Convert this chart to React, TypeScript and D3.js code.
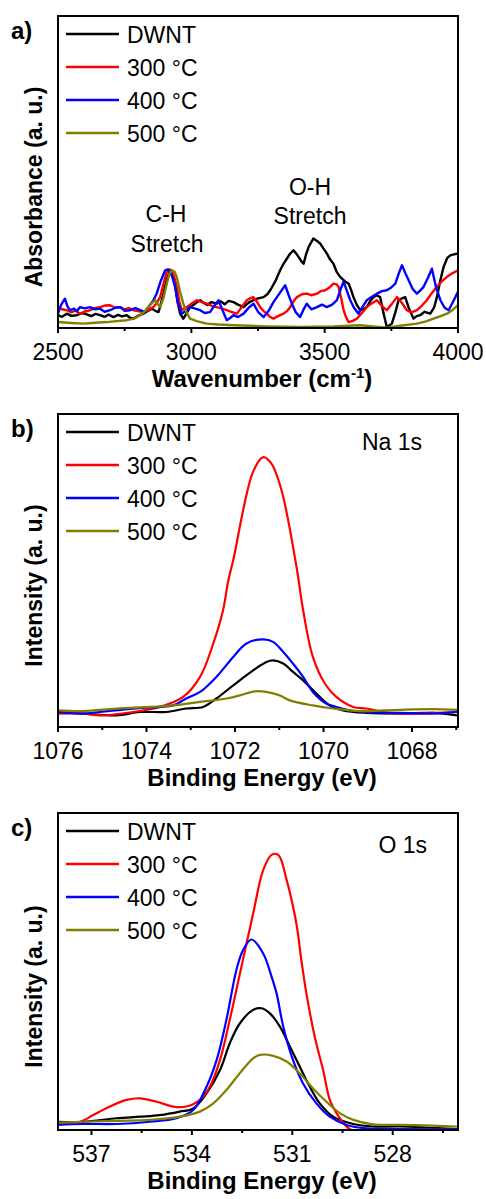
import React from 'react';
import * as d3 from 'd3';

const W = 486, H = 1199;
const LEFT = 58, RIGHT = 458;
const FONT = "'Liberation Sans', Arial, Helvetica, sans-serif";

const seriesNames = ['DWNT', '300 \u00B0C', '400 \u00B0C', '500 \u00B0C'];
const seriesColors = ['#000000', '#ff0000', '#0000ff', '#808000'];

// ---------- Panel a: FTIR (wavenumber, absorbance a.u.) ----------
const ftirTicks = [2500, 3000, 3500, 4000];
const ftirMinor = [2750, 3250, 3750];
const ftirDWNT: [number, number][] = [[2500,4.1],[2515,3.6],[2533,4.6],[2550,3.9],[2570,4.1],[2590,4.8],[2608,4.4],[2625,3.8],[2640,4.5],[2658,4.1],[2675,3.6],[2690,4.3],[2708,3.5],[2725,4.2],[2740,3.7],[2758,4.1],[2770,3.3],[2783,3.0],[2800,3.9],[2820,4.6],[2835,5.4],[2852,6.2],[2865,5.5],[2877,5.1],[2885,7.5],[2895,11.0],[2908,15.5],[2920,18.5],[2930,17.5],[2939,14.2],[2948,8.5],[2958,4.6],[2970,3.0],[2983,4.8],[2995,6.7],[3010,7.5],[3020,8.2],[3033,8.9],[3045,8.1],[3060,7.4],[3075,8.3],[3095,7.8],[3110,8.6],[3125,7.6],[3140,8.7],[3158,8.3],[3175,7.5],[3196,6.7],[3210,7.8],[3220,8.4],[3233,8.9],[3250,9.5],[3271,9.9],[3285,10.8],[3296,12.1],[3315,15.0],[3333,18.5],[3345,20.5],[3358,22.2],[3370,23.8],[3383,24.9],[3392,24.0],[3402,22.8],[3412,21.5],[3421,20.6],[3430,23.5],[3440,26.0],[3450,27.5],[3458,28.7],[3470,28.0],[3483,27.1],[3495,25.5],[3508,23.9],[3520,22.0],[3533,20.6],[3545,18.0],[3558,16.4],[3575,15.0],[3590,14.2],[3600,12.0],[3608,9.9],[3620,7.5],[3633,5.7],[3645,6.0],[3658,6.7],[3670,8.5],[3683,9.9],[3695,10.5],[3708,9.9],[3720,5.0],[3733,0.3],[3742,0.8],[3752,1.4],[3765,5.0],[3777,8.9],[3790,9.5],[3802,9.9],[3815,6.5],[3833,3.0],[3845,3.8],[3858,4.1],[3875,5.2],[3896,4.6],[3910,6.5],[3921,9.9],[3933,15.0],[3946,19.6],[3960,22.5],[3971,23.3],[3985,23.6],[4000,23.9]];
const ftir300: [number, number][] = [[2500,6.7],[2515,6.0],[2533,5.7],[2550,5.0],[2565,5.6],[2583,4.6],[2600,5.3],[2620,5.7],[2640,6.4],[2658,6.7],[2675,7.2],[2695,7.3],[2715,6.5],[2733,6.7],[2750,6.0],[2765,6.4],[2783,5.7],[2800,5.4],[2820,5.1],[2840,5.9],[2858,6.7],[2870,8.0],[2883,9.9],[2895,14.0],[2908,18.0],[2918,18.8],[2927,18.5],[2937,16.0],[2945,13.2],[2955,8.5],[2964,5.7],[2975,6.3],[2983,6.7],[3000,7.8],[3020,8.9],[3040,8.3],[3058,7.8],[3075,7.2],[3095,6.7],[3115,6.2],[3133,5.7],[3150,5.2],[3171,4.6],[3190,6.8],[3208,8.9],[3220,9.5],[3233,9.9],[3245,8.5],[3258,6.7],[3270,5.5],[3283,4.6],[3295,3.6],[3308,3.0],[3325,3.8],[3346,4.6],[3360,5.5],[3371,6.7],[3383,8.5],[3396,9.9],[3415,10.8],[3433,11.0],[3450,10.5],[3471,11.0],[3485,11.8],[3502,12.1],[3518,13.0],[3533,14.2],[3545,14.0],[3552,13.2],[3562,9.5],[3571,5.7],[3580,3.5],[3590,1.9],[3605,2.3],[3621,3.0],[3640,4.8],[3658,6.7],[3675,7.8],[3696,8.9],[3715,7.0],[3733,5.7],[3750,7.5],[3771,9.9],[3790,8.0],[3808,5.7],[3825,5.0],[3846,5.7],[3865,7.2],[3883,8.9],[3900,11.0],[3921,13.2],[3940,15.0],[3959,16.4],[3980,17.6],[4000,18.5]];
const ftir400: [number, number][] = [[2500,4.6],[2512,7.5],[2526,9.4],[2535,7.0],[2545,5.7],[2560,6.2],[2570,5.4],[2583,6.7],[2600,6.3],[2620,6.7],[2640,6.0],[2658,6.2],[2675,5.2],[2695,5.7],[2715,6.5],[2733,6.7],[2750,5.5],[2770,5.7],[2790,6.4],[2808,5.7],[2825,5.2],[2839,6.7],[2855,8.5],[2870,11.0],[2885,15.0],[2902,18.5],[2912,18.8],[2920,18.0],[2930,16.0],[2939,13.2],[2950,8.0],[2964,4.6],[2980,5.5],[2995,6.7],[3015,6.2],[3033,5.7],[3050,4.8],[3070,5.1],[3085,7.0],[3102,8.9],[3118,5.5],[3133,2.5],[3145,3.2],[3158,4.1],[3175,3.5],[3196,4.6],[3215,6.5],[3233,7.8],[3250,5.2],[3271,3.5],[3290,5.5],[3308,8.3],[3330,11.0],[3352,13.7],[3365,10.5],[3377,7.8],[3392,5.0],[3408,3.5],[3420,5.8],[3433,7.8],[3450,6.0],[3471,6.7],[3490,7.5],[3508,6.7],[3528,7.5],[3546,8.9],[3560,12.5],[3571,14.8],[3583,12.0],[3596,8.9],[3610,6.5],[3627,4.6],[3642,6.8],[3658,8.9],[3677,10.0],[3696,11.0],[3715,11.8],[3733,12.1],[3750,13.0],[3765,14.2],[3778,17.5],[3790,20.1],[3803,17.5],[3815,15.3],[3830,12.5],[3846,11.0],[3858,12.0],[3871,13.2],[3887,16.0],[3902,19.0],[3918,13.0],[3934,8.9],[3950,6.5],[3965,5.7],[3982,8.5],[4000,11.6]];
const ftir500: [number, number][] = [[2500,1.9],[2550,1.6],[2595,1.4],[2640,1.7],[2683,1.9],[2720,2.2],[2758,2.5],[2785,3.0],[2808,4.1],[2825,5.3],[2839,6.7],[2852,8.0],[2864,8.9],[2875,7.6],[2883,6.7],[2895,9.5],[2908,14.2],[2918,17.5],[2927,18.5],[2937,18.0],[2945,16.4],[2958,11.5],[2970,7.8],[2982,5.0],[2995,3.0],[3020,2.2],[3058,1.4],[3100,1.1],[3158,0.9],[3220,0.7],[3283,0.5],[3350,0.4],[3408,0.3],[3470,0.4],[3533,0.5],[3590,0.7],[3633,0.9],[3690,0.4],[3733,0.1],[3790,0.8],[3846,1.4],[3880,2.1],[3908,3.0],[3935,3.8],[3959,4.6],[3980,5.8],[4000,7.3]];

// ---------- Panel b: Na 1s XPS (binding energy, intensity a.u.) ----------
const naTicks = [1076, 1074, 1072, 1070, 1068];
const naMinor = [1075, 1073, 1071, 1069, 1067];
const naDWNT: [number, number][] = [[1076,4.8],[1075.43,4.3],[1074.68,3.7],[1074.15,4.8],[1073.55,4.8],[1073.10,5.9],[1072.72,6.4],[1072.42,9.1],[1072.04,13.3],[1071.59,18.1],[1071.29,20.8],[1071.14,21.3],[1070.91,20.3],[1070.69,17.6],[1070.46,14.9],[1070.16,10.7],[1069.86,6.9],[1069.56,5.3],[1069.03,4.5],[1068.28,4.3],[1067.53,4.5],[1066.98,3.7]];
const na300: [number, number][] = [[1076,4.3],[1075.43,4.3],[1075.05,3.7],[1074.30,4.8],[1073.70,6.4],[1073.17,9.6],[1072.79,16.0],[1072.49,26.7],[1072.27,37.3],[1072.15,46.9],[1072.04,53.3],[1071.59,81.6],[1071.36,86.2],[1071.18,84.2],[1070.95,75.7],[1070.61,51.2],[1070.46,37.3],[1070.24,22.4],[1069.97,13.9],[1069.71,9.6],[1069.33,6.4],[1069.03,5.9],[1068.66,4.8],[1068.28,4.3],[1067.53,4.5],[1066.98,4.8]];
const na400: [number, number][] = [[1076,4.8],[1075.43,4.3],[1075.05,4.8],[1074.30,5.9],[1073.70,6.4],[1073.40,6.9],[1073.10,9.1],[1072.79,11.2],[1072.42,16.0],[1072.04,22.4],[1071.74,26.7],[1071.36,28.0],[1071.14,27.2],[1070.91,24.0],[1070.69,20.3],[1070.46,16.0],[1070.24,11.2],[1069.94,7.5],[1069.71,6.4],[1069.41,5.3],[1069.03,4.8],[1068.28,4.5],[1067.53,4.3],[1066.98,4.8]];
const na500: [number, number][] = [[1076,5.3],[1075.43,5.1],[1074.68,5.9],[1073.92,6.4],[1073.40,6.9],[1072.79,8.0],[1072.19,9.1],[1071.89,10.1],[1071.55,11.4],[1071.29,11.2],[1070.99,10.1],[1070.76,8.5],[1070.24,6.9],[1069.78,5.9],[1069.18,5.1],[1068.28,5.5],[1067.53,5.7],[1066.98,5.5]];

// ---------- Panel c: O 1s XPS ----------
const oTicks = [537, 534, 531, 528];
const oMinor = [535.5, 532.5, 529.5, 526.5];
const oDWNT: [number, number][] = [[538,2.6],[537.24,2.6],[536.25,3.7],[535.55,4.2],[534.96,4.7],[534.36,5.8],[533.96,6.8],[533.56,11.6],[533.16,18.9],[532.87,27.3],[532.57,33.6],[532.17,37.9],[531.92,38.4],[531.67,36.8],[531.37,32.6],[531.07,26.3],[530.78,20.0],[530.48,13.7],[530.18,8.4],[529.78,4.2],[529.18,1.9],[528.59,1.1],[527.79,1.1],[526.07,0.3]];
const o300: [number, number][] = [[538,2.1],[537.34,2.6],[536.95,4.7],[536.45,7.4],[535.95,9.5],[535.55,10.0],[535.05,8.9],[534.56,7.4],[534.16,7.4],[533.76,9.5],[533.46,13.7],[533.16,22.1],[532.87,34.7],[532.52,51.5],[532.17,68.3],[531.87,82.0],[531.62,86.8],[531.42,86.8],[531.17,78.9],[530.88,65.2],[530.73,53.6],[530.58,43.1],[530.33,29.4],[530.08,18.9],[529.88,9.5],[529.68,5.3],[529.38,1.1],[529.18,-0.3],[528.59,0],[527.79,0.2],[526.80,0.2],[526.07,0.2]];
const o400: [number, number][] = [[538,1.6],[537.24,1.9],[536.25,1.9],[535.25,2.6],[534.46,3.7],[533.96,6.3],[533.56,13.7],[533.26,22.1],[532.97,34.7],[532.67,50.5],[532.47,56.8],[532.22,60.1],[531.87,55.7],[531.62,48.4],[531.47,43.1],[531.27,32.6],[530.98,22.1],[530.68,14.7],[530.28,8.4],[529.88,4.2],[529.38,1.6],[528.79,0.5],[527.79,0.3],[526.07,0.2]];
const o500: [number, number][] = [[538,2.3],[537.24,2.6],[536.25,2.9],[535.25,3.2],[534.36,4.2],[533.76,5.8],[533.36,8.4],[532.97,12.6],[532.57,17.9],[532.17,22.6],[531.97,23.7],[531.57,23.4],[531.17,21.6],[530.78,17.9],[530.38,13.1],[529.98,8.9],[529.58,5.3],[529.18,3.2],[528.59,1.8],[527.79,1.6],[526.80,1.4],[526.07,1.1]];

type Panel = {
  id: string;
  letter: string;
  top: number;
  bottom: number;
  domain: [number, number];
  ticks: number[];
  minor: number[];
  series: [number, number][][];
  yTitle: string;
  smooth: boolean;
  lineWidth: number;
  label?: { text: string; x: number; y: number };
};

const panels: Panel[] = [
  { id: 'a', letter: 'a)', top: 16, bottom: 328, domain: [2500, 4000], ticks: ftirTicks, minor: ftirMinor,
    series: [ftirDWNT, ftir300, ftir400, ftir500], yTitle: 'Absorbance (a. u.)', smooth: false, lineWidth: 2.4 },
  { id: 'b', letter: 'b)', top: 414, bottom: 727, domain: [1076, 1066.96], ticks: naTicks, minor: naMinor,
    series: [naDWNT, na300, na400, na500], yTitle: 'Intensity (a. u.)', smooth: true, lineWidth: 2.2,
    label: { text: 'Na 1s', x: 422, y: 450 } },
  { id: 'c', letter: 'c)', top: 813, bottom: 1130, domain: [538, 526.05], ticks: oTicks, minor: oMinor,
    series: [oDWNT, o300, o400, o500], yTitle: 'Intensity (a. u.)', smooth: true, lineWidth: 2.2,
    label: { text: 'O 1s', x: 427, y: 853 } },
];

function PanelView({ p }: { p: Panel }) {
  const x = d3.scaleLinear().domain(p.domain).range([LEFT, RIGHT]);
  const y = d3.scaleLinear().domain([0, 100]).range([p.bottom, p.top]);
  const line = d3.line<[number, number]>()
    .x(d => x(d[0])).y(d => y(d[1]))
    .curve(p.smooth ? d3.curveCatmullRom.alpha(0.5) : d3.curveLinear);
  const midY = (p.top + p.bottom) / 2 + 15;
  const order = [0, 1, 2, 3];
  return (
    <g>
      <defs>
        <clipPath id={'clip-' + p.id}>
          <rect x={LEFT} y={p.top} width={RIGHT - LEFT} height={p.bottom - p.top} />
        </clipPath>
      </defs>
      <g clipPath={`url(#clip-${p.id})`}>
        {order.map(i => (
          <path key={i} d={line(p.series[i]) || ''} fill="none" stroke={seriesColors[i]}
            strokeWidth={p.lineWidth} strokeLinejoin="round" />
        ))}
      </g>
      <rect x={LEFT} y={p.top} width={RIGHT - LEFT} height={p.bottom - p.top} fill="none" stroke="#000" strokeWidth={2} />
      {p.ticks.map(t => (
        <g key={'t' + t}>
          <line x1={x(t)} x2={x(t)} y1={p.bottom} y2={p.bottom + 5} stroke="#000" strokeWidth={2} />
          <text x={x(t)} y={p.bottom + 32} textAnchor="middle" fontSize={23} fontFamily={FONT}>{t}</text>
        </g>
      ))}
      {p.minor.map(t => (
        <line key={'m' + t} x1={x(t)} x2={x(t)} y1={p.bottom} y2={p.bottom + 3} stroke="#000" strokeWidth={2} />
      ))}
      <text x={(LEFT + RIGHT) / 2 + 4} y={p.bottom + 59} textAnchor="middle" fontSize={24} fontWeight="bold" fontFamily={FONT}>
        {p.id === 'a' ? (
          <>
            Wavenumber (cm<tspan dy={-9} fontSize={15}>-1</tspan><tspan dy={9}>)</tspan>
          </>
        ) : 'Binding Energy (eV)'}
      </text>
      <text transform={`translate(42,${midY}) rotate(-90)`} textAnchor="middle" fontSize={23} fontWeight="bold" fontFamily={FONT}>
        {p.yTitle}
      </text>
      <text x={11} y={p.top + 23} fontSize={24} fontWeight="bold" fontFamily={FONT}>{p.letter}</text>
      {seriesNames.map((n, i) => {
        const ly = p.top + 18 + i * 33;
        return (
          <g key={n}>
            <line x1={66} x2={119} y1={ly} y2={ly} stroke={seriesColors[i]} strokeWidth={2.5} />
            <text x={127} y={ly + 9} fontSize={23} fontFamily={FONT}>{n}</text>
          </g>
        );
      })}
      {p.label && (
        <text x={p.label.x} y={p.label.y} textAnchor="end" fontSize={23} fontFamily={FONT}>{p.label.text}</text>
      )}
    </g>
  );
}

export default function App() {
  return (
    <svg width={W} height={H} viewBox={`0 0 ${W} ${H}`}
      style={{ position: 'absolute', left: 0, top: 0, background: '#fff' }}>
      <rect width={W} height={H} fill="#fff" />
      {panels.map(p => <PanelView key={p.id} p={p} />)}
      <text x={166} y={222} textAnchor="middle" fontSize={23} fontFamily={FONT}>C-H</text>
      <text x={167} y={252} textAnchor="middle" fontSize={23} fontFamily={FONT}>Stretch</text>
      <text x={310} y={195} textAnchor="middle" fontSize={23} fontFamily={FONT}>O-H</text>
      <text x={310} y={224} textAnchor="middle" fontSize={23} fontFamily={FONT}>Stretch</text>
    </svg>
  );
}
